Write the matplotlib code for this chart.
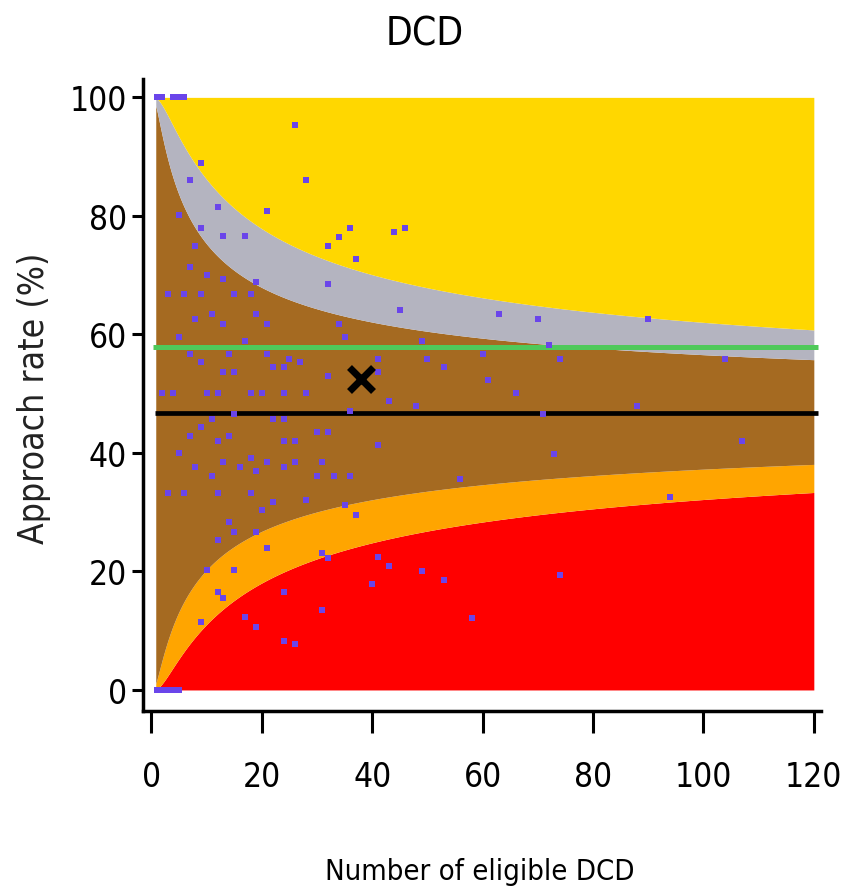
import numpy as np
import matplotlib
matplotlib.use("Agg")
import matplotlib.pyplot as plt

# national mean, target and the highlighted centre
mean_rate = 46.8
target_rate = 57.8
centre_n = 38
centre_rate = 52.4

z_inner = 1.96   # 95%
z_outer = 3.09   # 99.8%

# hospitals: number of eligible DCD and approach rate (%)
n_eligible = [1, 2, 4, 5, 6,
              1, 2, 3, 4, 5,
              26, 9, 28, 7, 12, 21, 5, 9, 13, 17, 8, 7, 10, 13, 19,
              3, 6, 9, 15, 18, 8, 11, 19, 13, 21, 5, 17,
              7, 14, 21, 25, 9, 22, 24, 27, 13, 15,
              2, 4, 10, 12, 18, 20, 24, 28,
              15, 11, 22, 24, 9, 7, 14, 12, 24, 26, 30,
              5, 18, 8, 13, 16, 21, 24, 26, 19, 31, 11, 30,
              3, 6, 12, 18, 28, 22, 20, 14, 15, 19, 12, 21, 31,
              10, 15, 12, 13, 24, 9, 17, 19, 24, 26, 31,
              36, 34, 32, 44, 46, 37, 32, 45, 63, 34, 35, 49, 41, 50, 60,
              41, 53, 32, 61, 43, 48, 36, 32, 41, 33, 36, 56, 35, 37,
              32, 41, 43, 49, 53, 40, 58,
              70, 90, 72, 74, 104, 66, 88, 71, 107, 73, 94, 74]
approach_pct = [100, 100, 100, 100, 100,
                0, 0, 0, 0, 0,
                95.4, 88.9, 86.0, 86.0, 81.5, 80.9, 80.2, 78.0, 76.6, 76.6, 75.0, 71.4, 70.0, 69.3, 68.8,
                66.9, 66.9, 66.9, 66.9, 66.9, 62.6, 63.4, 63.4, 61.8, 61.8, 59.6, 58.9,
                56.7, 56.7, 56.7, 55.9, 55.3, 54.5, 54.5, 55.3, 53.7, 53.7,
                50.1, 50.1, 50.1, 50.1, 50.1, 50.1, 50.1, 50.1,
                46.5, 45.7, 45.7, 45.7, 44.3, 42.9, 42.9, 42.0, 42.0, 42.0, 43.5,
                40.0, 39.1, 37.7, 38.4, 37.7, 38.4, 37.7, 38.4, 37.0, 38.4, 36.1, 36.1,
                33.3, 33.3, 33.3, 33.3, 32.0, 31.8, 30.4, 28.3, 26.7, 26.7, 25.3, 23.9, 23.1,
                20.2, 20.2, 16.5, 15.6, 16.5, 11.4, 12.3, 10.6, 8.3, 7.8, 13.5,
                77.9, 76.5, 74.9, 77.2, 77.9, 72.8, 68.5, 64.1, 63.4, 61.8, 59.6, 58.9, 55.9, 55.9, 56.7,
                53.7, 54.5, 53.0, 52.3, 48.7, 47.9, 47.1, 43.6, 41.3, 36.1, 36.1, 35.6, 31.2, 29.6,
                22.3, 22.4, 20.9, 20.1, 18.6, 17.9, 12.1,
                62.6, 62.6, 58.2, 55.9, 55.9, 50.1, 47.9, 46.5, 42.0, 39.9, 32.5, 19.4]

x_ticks = [0, 20, 40, 60, 80, 100, 120]
y_ticks = [0, 20, 40, 60, 80, 100]

font = dict(family="DejaVu Sans", stretch="condensed")

# funnel limits on the logit scale
p0 = mean_rate / 100.0
n = np.linspace(0.8, 120, 800)
se = 1.0 / np.sqrt(n * p0 * (1 - p0))
lg = np.log(p0 / (1 - p0))


def expit(v):
    return 100.0 / (1.0 + np.exp(-v))


lo95, hi95 = expit(lg - z_inner * se), expit(lg + z_inner * se)
lo998, hi998 = expit(lg - z_outer * se), expit(lg + z_outer * se)

fig = plt.figure(figsize=(8.5, 8.95), dpi=100)
ax = fig.add_axes([142.5 / 850, 1 - 712 / 895, (821 - 142.5) / 850, (712 - 80) / 895])

ax.fill_between(n, 0, lo998, color="#ff0000", lw=0)
ax.fill_between(n, lo998, lo95, color="#ffa500", lw=0)
ax.fill_between(n, lo95, hi95, color="#a56a21", lw=0)
ax.fill_between(n, hi95, hi998, color="#b4b4c0", lw=0)
ax.fill_between(n, hi998, 100, color="#ffd700", lw=0)

ax.hlines(target_rate, 0.3, 120.7, color="#4fc95a", lw=3.6, zorder=3)
ax.hlines(mean_rate, 0.6, 120.7, color="black", lw=3.4, zorder=3)

ax.plot(n_eligible, approach_pct, "s", color="#6a45ea", ms=4.6, mew=0, zorder=4)
ax.plot(centre_n, centre_rate, "x", color="black", ms=17, mew=5, zorder=5)

ax.set_xlim(-1.6, 121.3)
ax.set_ylim(-3.55, 103.1)
ax.set_xticks(x_ticks)
ax.set_yticks(y_ticks)
for s in ["top", "right"]:
    ax.spines[s].set_visible(False)
for s in ["left", "bottom"]:
    ax.spines[s].set_linewidth(2.5)
ax.tick_params(axis="x", length=16, width=2.2, pad=19)
ax.tick_params(axis="y", length=8, width=2.2, pad=3)
for lab in ax.get_xticklabels() + ax.get_yticklabels():
    lab.set_family(font["family"])
    lab.set_stretch(font["stretch"])
    lab.set_fontsize(24)

fig.text(425 / 850, 1 - 35 / 895, "DCD", fontsize=28, ha="center", va="center", **font)
fig.text(480 / 850, 1 - 872 / 895, "Number of eligible DCD", fontsize=21,
         ha="center", va="center", **font)
fig.text(34 / 850, 1 - 398 / 895, "Approach rate (%)", fontsize=25.5, rotation=90,
         ha="center", va="center", color="#222222", **font)

fig.savefig("out.png", dpi=100)
